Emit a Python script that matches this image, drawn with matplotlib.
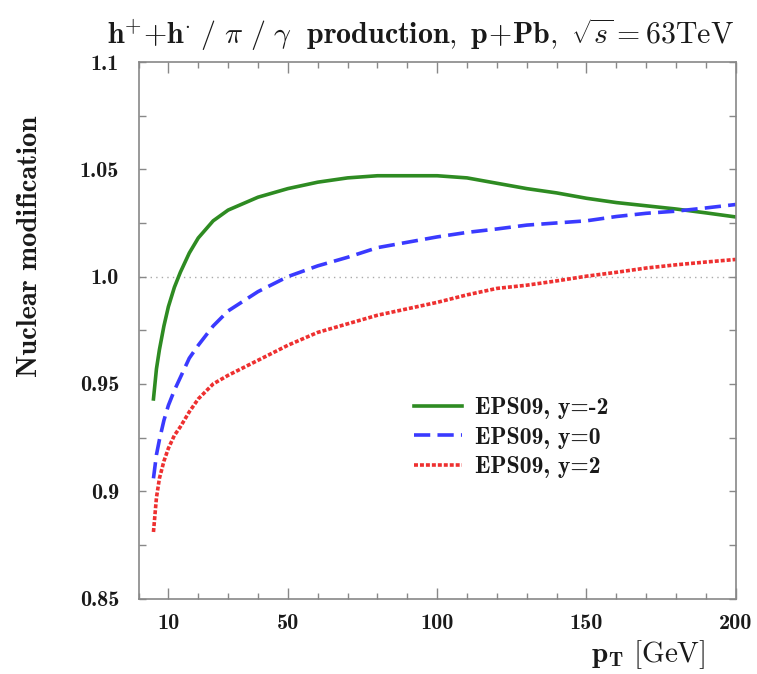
import matplotlib
matplotlib.use("Agg")
import matplotlib.pyplot as plt
from matplotlib.ticker import FixedLocator, MultipleLocator

plt.rcParams['mathtext.fontset'] = 'cm'
plt.rcParams['axes.unicode_minus'] = False

pt = [5, 6, 7, 8.5, 10, 12, 14, 17, 20, 25, 30, 40, 50, 60, 70, 80, 90, 100,
      110, 120, 130, 140, 150, 160, 170, 180, 190, 200]
eps_ym2 = [0.943, 0.957, 0.966, 0.977, 0.986, 0.995, 1.002, 1.011, 1.018, 1.026,
           1.031, 1.037, 1.041, 1.044, 1.046, 1.047, 1.047, 1.047, 1.046, 1.0435,
           1.041, 1.039, 1.0365, 1.0345, 1.033, 1.0315, 1.0297, 1.0278]
eps_y0 = [0.906, 0.917, 0.924, 0.933, 0.940, 0.947, 0.953, 0.962, 0.968, 0.977,
          0.984, 0.993, 1.000, 1.005, 1.009, 1.0135, 1.016, 1.0185, 1.0206, 1.0222,
          1.024, 1.025, 1.026, 1.028, 1.0295, 1.0305, 1.032, 1.0336]
eps_y2 = [0.881, 0.897, 0.906, 0.914, 0.920, 0.926, 0.930, 0.937, 0.943, 0.950,
          0.954, 0.961, 0.968, 0.974, 0.978, 0.982, 0.985, 0.988, 0.9915, 0.9945,
          0.996, 0.998, 1.0002, 1.002, 1.004, 1.0055, 1.0068, 1.008]

labels = ['EPS09, y=-2', 'EPS09, y=0', 'EPS09, y=2']
xticks = [10, 50, 100, 150, 200]
yticks = [0.85, 0.9, 0.95, 1.0, 1.05, 1.1]
ytick_labels = ['0.85', '0.9', '0.95', '1.0', '1.05', '1.1']

BOLD = 'cmb10'
INK = '#1a1a1a'

fig = plt.figure(figsize=(7.57, 6.74), dpi=100)
ax = fig.add_axes([0.183, 0.112, 0.789, 0.796])

ax.axhline(1.0, color='#aaaaaa', lw=1.0, ls=(0, (1, 3)), zorder=1)
ax.plot(pt, eps_ym2, color='#2e8b22', lw=2.6, ls='-', label=labels[0])
ax.plot(pt, eps_y0, color='#3a3aff', lw=2.6, ls=(0, (4.5, 2)), label=labels[1])
ax.plot(pt, eps_y2, color='#ee3030', lw=2.6, ls=(0, (1.1, 0.55)), label=labels[2])

ax.set_xlim(0, 200)
ax.set_ylim(0.85, 1.1)
ax.xaxis.set_major_locator(FixedLocator(xticks))
ax.set_xticklabels([str(t) for t in xticks], fontfamily=BOLD)
ax.xaxis.set_minor_locator(MultipleLocator(10))
ax.yaxis.set_major_locator(FixedLocator(yticks))
ax.set_yticklabels(ytick_labels, fontfamily=BOLD)
ax.yaxis.set_minor_locator(MultipleLocator(0.025))

ax.tick_params(which='both', direction='in', top=True, right=True,
               color='#888888', labelsize=16, labelcolor=INK)
ax.tick_params(axis='x', which='major', length=8, width=1, pad=11)
ax.tick_params(axis='x', which='minor', length=4, width=1)
ax.tick_params(axis='y', which='both', length=5, width=1, pad=14)
for s in ax.spines.values():
    s.set_color('#888888')
    s.set_linewidth(1.2)

fig.text(0.040, 0.634, 'Nuclear modification', fontfamily=BOLD, fontsize=20.5,
         rotation=90, ha='center', va='center', color=INK)
fig.text(0.932, 0.004, r'$\mathbf{p}_{\mathbf{T}}\ [\mathrm{GeV}]$', fontsize=21,
         ha='right', va='bottom', color=INK)

title = (r'$\mathbf{h}^{\mathbf{+}}\mathbf{+h}^{\mathbf{\cdot}}\ /\ \pi\ /\ \gamma\ \ '
         r'\mathbf{production,\ p\!+\!Pb,}\ \sqrt{s}=63\mathrm{TeV}$')
fig.text(0.556, 0.948, title, fontsize=21.5, ha='center', va='center', color=INK)

leg = ax.legend(loc='upper left', bbox_to_anchor=(0.425, 0.415), frameon=False,
                prop={'family': BOLD, 'size': 17}, handlelength=2.05,
                handletextpad=0.55, labelspacing=0.32)
for t in leg.get_texts():
    t.set_color(INK)

fig.savefig('out.png', dpi=100)
